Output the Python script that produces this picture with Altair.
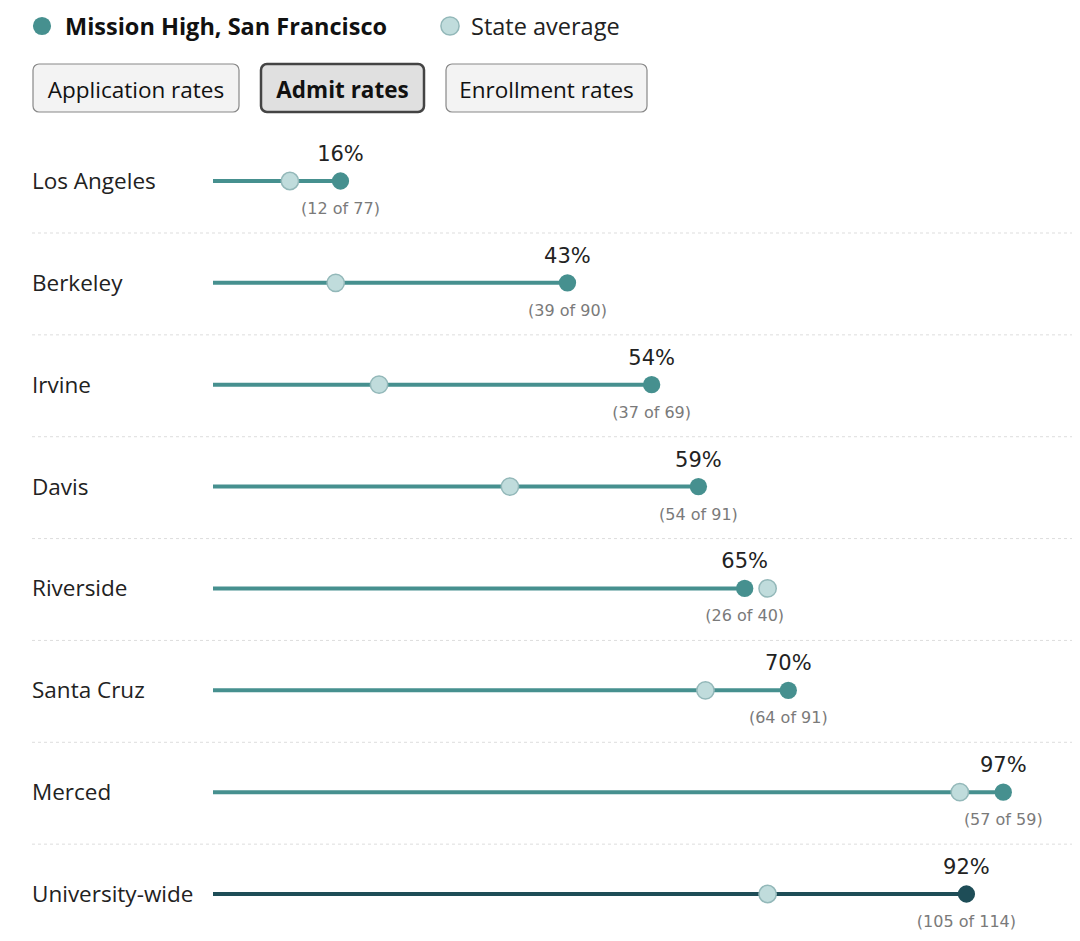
import altair as alt
import pandas as pd

# ---- data ----
campuses = ["Los Angeles", "Berkeley", "Irvine", "Davis", "Riverside",
            "Santa Cruz", "Merced", "University-wide"]
admitted = [12, 39, 37, 54, 26, 64, 57, 105]
applied = [77, 90, 69, 91, 40, 91, 59, 114]
state_avg = [9.4, 15.0, 20.3, 36.3, 67.8, 60.2, 91.3, 67.8]

legend_labels = ["Mission High, San Francisco", "State average"]
button_labels = ["Application rates", "Admit rates", "Enrollment rates"]

TEAL = "#46908f"
DARK = "#1e4d57"
LIGHT = "#c0dcdc"
LIGHT_STROKE = "#93b8b9"
SANS = "Open Sans"

df = pd.DataFrame({
    "campus": campuses,
    "admitted": admitted,
    "applied": applied,
    "state": state_avg,
})
df["mission"] = df["admitted"] / df["applied"] * 100
df["zero"] = 0
df["pct_label"] = [f"{round(a / b * 100)}%" for a, b in zip(admitted, applied)]
df["count_label"] = [f"({a} of {b})" for a, b in zip(admitted, applied)]
df["kind"] = ["campus"] * (len(campuses) - 1) + ["total"]

xs = alt.Scale(domain=[0, 100], range=[205, 1023])
ys = alt.Scale(type="point", range=[173, 886], padding=0)
X = lambda f: alt.X(f, scale=xs, axis=None)
Y = alt.Y("campus:N", sort=campuses, scale=ys, axis=None)
color = alt.Color("kind:N", scale=alt.Scale(domain=["campus", "total"], range=[TEAL, DARK]), legend=None)

base = alt.Chart(df)

seps = alt.Chart(df.iloc[:-1]).mark_rule(
    strokeDash=[3, 3], color="#dddddd", strokeWidth=1, yOffset=52
).encode(y=Y, x=alt.value(24), x2=alt.value(1072))

names = base.mark_text(align="left", baseline="middle", fontSize=22.5, font=SANS, color="#222", dy=1).encode(
    y=Y, x=alt.value(24), text="campus:N")

lines = base.mark_rule(strokeWidth=4).encode(x=X("zero:Q"), x2="mission:Q", y=Y, color=color)

state_pts = base.mark_circle(size=300, opacity=1).encode(
    x=X("state:Q"), y=Y, color=alt.value(LIGHT), stroke=alt.value(LIGHT_STROKE),
    strokeWidth=alt.value(1.5))

mission_pts = base.mark_circle(size=300, opacity=1).encode(x=X("mission:Q"), y=Y, color=color)

pct = base.mark_text(baseline="middle", fontSize=21, font="DejaVu Sans", color="#222", yOffset=-26).encode(
    x=X("mission:Q"), y=Y, text="pct_label:N")

counts = base.mark_text(baseline="middle", fontSize=16, font="DejaVu Sans", color="#7a7a7a", yOffset=28).encode(
    x=X("mission:Q"), y=Y, text="count_label:N")

one = pd.DataFrame({"a": [0]})

def dot(cx, cy, fill, stroke=None):
    kw = dict(size=330, opacity=1, fill=fill)
    if stroke:
        kw.update(stroke=stroke, strokeWidth=1.5)
    return alt.Chart(one).mark_circle(**kw).encode(x=alt.value(cx), y=alt.value(cy))

def label(tx, ty, text, **kw):
    return alt.Chart(one).mark_text(align="left", baseline="middle", fontSize=23.5, font=SANS, **kw).encode(
        x=alt.value(tx), y=alt.value(ty), text=alt.value(text))

legend = [
    dot(34, 18, TEAL),
    label(57, 20, legend_labels[0], fontWeight="bold", color="#111"),
    dot(442, 18, LIGHT, LIGHT_STROKE),
    label(463, 20, legend_labels[1], color="#222"),
]

buttons = []
btn_x = [(25, 231), (253, 416), (438, 639)]
for (x1, x2), lab in zip(btn_x, button_labels):
    active = lab == "Admit rates"
    buttons.append(alt.Chart(one).mark_rect(
        cornerRadius=6, fill="#e0e0e0" if active else "#f3f3f3",
        stroke="#444" if active else "#888", strokeWidth=2.5 if active else 1.2
    ).encode(x=alt.value(x1), x2=alt.value(x2), y=alt.value(56), y2=alt.value(104)))
    buttons.append(alt.Chart(one).mark_text(
        align="center", baseline="middle", fontSize=22.5, font=SANS,
        fontWeight="bold" if active else "normal", color="#111"
    ).encode(x=alt.value((x1 + x2) / 2), y=alt.value(83), text=alt.value(lab)))

chart = alt.layer(
    seps, names, lines, state_pts, mission_pts, pct, counts, *legend, *buttons
).properties(
    width=1064, height=925, autosize=alt.AutoSizeParams(type="none"), padding=0,
    background="white"
).configure_view(stroke=None)

chart.save("out.html", embed_options={"renderer": "svg", "actions": False})
